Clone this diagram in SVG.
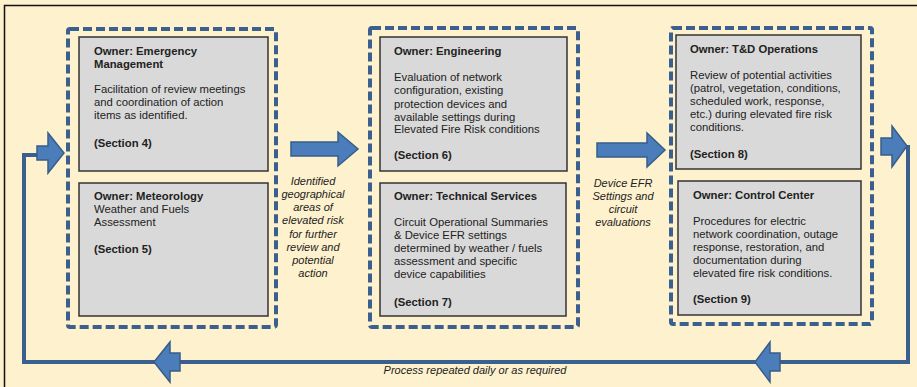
<svg xmlns="http://www.w3.org/2000/svg" width="917" height="387" viewBox="0 0 917 387">
<style>
.bg{fill:#FEF1CD}
.frame{fill:none;stroke:#111;stroke-width:1.5}
.group{fill:none;stroke:#3B5F8E;stroke-width:4;stroke-dasharray:9 4}
.box{fill:#D9D9D9;stroke:#333;stroke-width:1.5}
.t{font-family:"Liberation Sans",Arial,sans-serif;font-size:11.3px;fill:#222}
.b{font-weight:bold}
.it{font-family:"Liberation Sans",Arial,sans-serif;font-size:11px;font-style:italic;fill:#222;text-anchor:middle}
.line{fill:none;stroke:#3B5F8E;stroke-width:4;stroke-linejoin:miter}
.fat{fill:#4A7DBA;stroke:#385D8A;stroke-width:1.5;stroke-linejoin:miter}
</style>
<rect class="bg" x="0" y="0" width="917" height="387"/>
<path class="frame" d="M4.5 387 V5.5 H917"/>

<g id="connectors">
<path class="line" d="M908 145 V362 H24 V155 H38"/>
<path class="fat" d="M37 146 H48 V133 L64 153 L48 173 V160 H37 Z"/>
<path class="fat" d="M291 142 H338 V132 L358 149 L338 166 V156 H291 Z"/>
<path class="fat" d="M597 143 H647 V133 L665 150 L647 167 V157 H597 Z"/>
<path class="fat" d="M881 138 H892 V126 L907 146 L892 167 V155 H881 Z"/>
<path class="fat" d="M780 353 H770 V342 L755 362 L770 382 V371 H780 Z"/>
<path class="fat" d="M180 353 H170 V342 L154 362 L170 382 V371 H180 Z"/>
<text class="it" x="313" y="185">Identified</text>
<text class="it" x="313" y="198">geographical</text>
<text class="it" x="313" y="211">areas of</text>
<text class="it" x="313" y="224">elevated risk</text>
<text class="it" x="313" y="238">for further</text>
<text class="it" x="313" y="251">review and</text>
<text class="it" x="313" y="264">potential</text>
<text class="it" x="313" y="277">action</text>
<text class="it" x="623" y="187">Device EFR</text>
<text class="it" x="623" y="200">Settings and</text>
<text class="it" x="623" y="213">circuit</text>
<text class="it" x="623" y="226">evaluations</text>
<text class="it" x="475" y="374">Process repeated daily or as required</text>
</g>

<g id="group1">
<rect class="group" x="68" y="29" width="208" height="298" rx="2"/>
</g>
<g id="group2">
<rect class="group" x="370" y="28" width="208" height="299" rx="2"/>
</g>
<g id="group3">
<rect class="group" x="671" y="28" width="201" height="296" rx="2"/>
</g>

<g id="emergency">
<rect class="box" x="79" y="37" width="189" height="134"/>
<text class="t b" x="94" y="55">Owner: Emergency</text>
<text class="t b" x="94" y="68">Management</text>
<text class="t" x="94" y="93">Facilitation of review meetings</text>
<text class="t" x="94" y="106">and coordination of action</text>
<text class="t" x="94" y="119">items as identified.</text>
<text class="t b" x="94" y="147">(Section 4)</text>
</g>

<g id="meteorology">
<rect class="box" x="79" y="183" width="189" height="133"/>
<text class="t b" x="94" y="200">Owner: Meteorology</text>
<text class="t" x="94" y="213">Weather and Fuels</text>
<text class="t" x="94" y="226">Assessment</text>
<text class="t b" x="94" y="253">(Section 5)</text>
</g>

<g id="engineering">
<rect class="box" x="380" y="37" width="187" height="134"/>
<text class="t b" x="394" y="55">Owner: Engineering</text>
<text class="t" x="394" y="81">Evaluation of network</text>
<text class="t" x="394" y="94">configuration, existing</text>
<text class="t" x="394" y="108">protection devices and</text>
<text class="t" x="394" y="121">available settings during</text>
<text class="t" x="394" y="133">Elevated Fire Risk conditions</text>
<text class="t b" x="394" y="159">(Section 6)</text>
</g>

<g id="technical">
<rect class="box" x="380" y="183" width="186" height="133"/>
<text class="t b" x="394" y="200">Owner: Technical Services</text>
<text class="t" x="394" y="226">Circuit Operational Summaries</text>
<text class="t" x="394" y="239">&amp; Device EFR settings</text>
<text class="t" x="394" y="252">determined by weather / fuels</text>
<text class="t" x="394" y="265">assessment and specific</text>
<text class="t" x="394" y="278">device capabilities</text>
<text class="t b" x="394" y="306">(Section 7)</text>
</g>

<g id="td-operations">
<rect class="box" x="676" y="35" width="185" height="134"/>
<text class="t b" x="690" y="53">Owner: T&amp;D Operations</text>
<text class="t" x="690" y="79">Review of potential activities</text>
<text class="t" x="690" y="92">(patrol, vegetation, conditions,</text>
<text class="t" x="690" y="105">scheduled work, response,</text>
<text class="t" x="690" y="118">etc.) during elevated fire risk</text>
<text class="t" x="690" y="131">conditions.</text>
<text class="t b" x="690" y="158">(Section 8)</text>
</g>

<g id="control-center">
<rect class="box" x="678" y="181" width="183" height="134"/>
<text class="t b" x="693" y="199">Owner: Control Center</text>
<text class="t" x="693" y="225">Procedures for electric</text>
<text class="t" x="693" y="238">network coordination, outage</text>
<text class="t" x="693" y="251">response, restoration, and</text>
<text class="t" x="693" y="264">documentation during</text>
<text class="t" x="693" y="277">elevated fire risk conditions.</text>
<text class="t b" x="693" y="303">(Section 9)</text>
</g>
</svg>
